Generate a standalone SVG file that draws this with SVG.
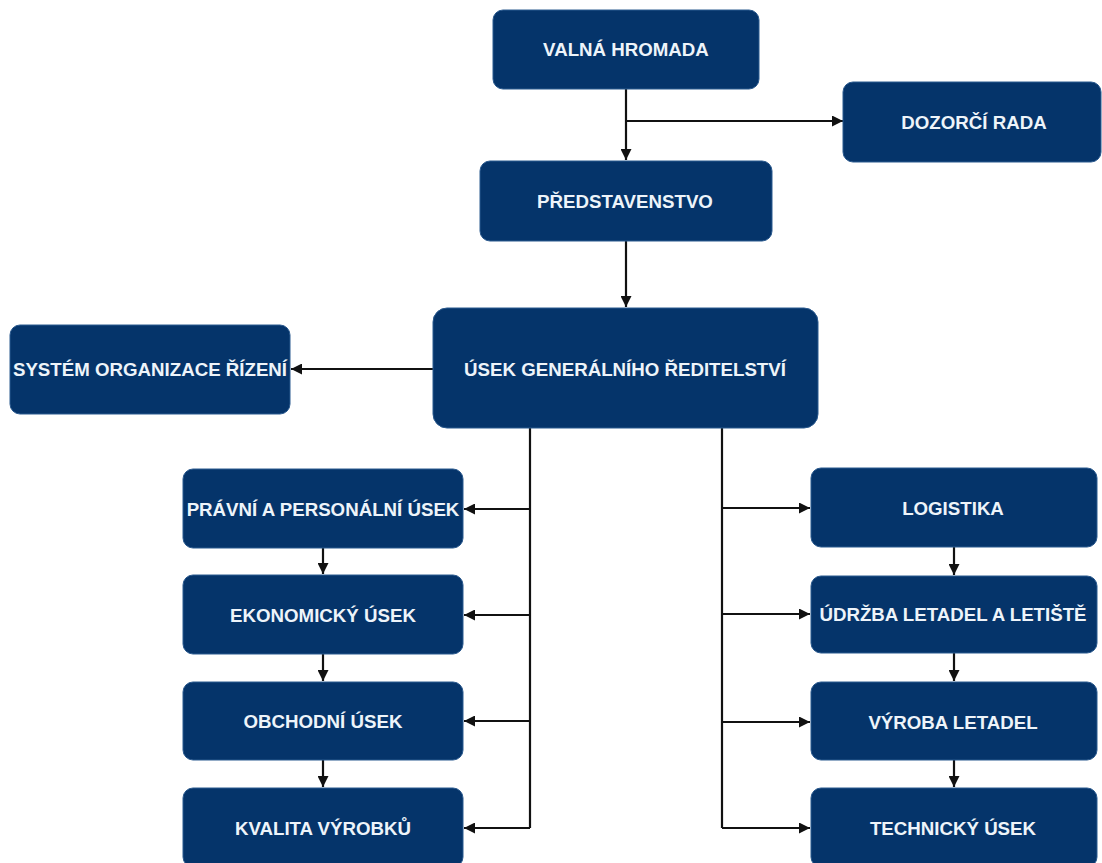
<svg xmlns="http://www.w3.org/2000/svg" width="1102" height="863" viewBox="0 0 1102 863">
  <style>
    .box { fill: #05346a; stroke: #2b5a8f; stroke-width: 1; }
    .lbl { font-family: "Liberation Sans", Arial, sans-serif; font-weight: bold; font-size: 18.7px; fill: #eef4fa; text-anchor: middle; dominant-baseline: central; }
    .ln { fill: none; stroke: #111; stroke-width: 2.2; }
  </style>
  <defs>
    <marker id="arr" viewBox="0 0 10 10" refX="10" refY="5" markerWidth="5" markerHeight="5" orient="auto" markerUnits="strokeWidth">
      <path d="M0,0 L10,5 L0,10 Z" fill="#111"/>
    </marker>
  </defs>
  <rect width="1102" height="863" fill="#ffffff"/>

  <!-- connectors -->
  <g id="connectors">
    <!-- top chain -->
    <path class="ln" d="M626,89 V160" marker-end="url(#arr)"/>
    <path class="ln" d="M626,121 H843" marker-end="url(#arr)"/>
    <path class="ln" d="M626,241 V307" marker-end="url(#arr)"/>
    <path class="ln" d="M433,369 H291" marker-end="url(#arr)"/>
    <!-- left branch -->
    <path class="ln" d="M530,428 V828"/>
    <path class="ln" d="M530,509 H464" marker-end="url(#arr)"/>
    <path class="ln" d="M530,615 H464" marker-end="url(#arr)"/>
    <path class="ln" d="M530,721 H464" marker-end="url(#arr)"/>
    <path class="ln" d="M530,828 H464" marker-end="url(#arr)"/>
    <path class="ln" d="M323,548 V574" marker-end="url(#arr)"/>
    <path class="ln" d="M323,654 V681" marker-end="url(#arr)"/>
    <path class="ln" d="M323,760 V787" marker-end="url(#arr)"/>
    <!-- right branch -->
    <path class="ln" d="M722,428 V828"/>
    <path class="ln" d="M722,508 H810" marker-end="url(#arr)"/>
    <path class="ln" d="M722,614 H810" marker-end="url(#arr)"/>
    <path class="ln" d="M722,722 H810" marker-end="url(#arr)"/>
    <path class="ln" d="M722,828 H810" marker-end="url(#arr)"/>
    <path class="ln" d="M954,547 V575" marker-end="url(#arr)"/>
    <path class="ln" d="M954,653 V681" marker-end="url(#arr)"/>
    <path class="ln" d="M954,760 V787" marker-end="url(#arr)"/>
  </g>

  <!-- nodes -->
  <g id="valna-hromada">
    <rect class="box" x="493" y="10" width="266" height="79" rx="10"/>
    <text class="lbl" x="626" y="49">VALNÁ HROMADA</text>
  </g>
  <g id="dozorci-rada">
    <rect class="box" x="843" y="82" width="258" height="80" rx="10"/>
    <text class="lbl" x="974" y="122">DOZORČÍ RADA</text>
  </g>
  <g id="predstavenstvo">
    <rect class="box" x="480" y="161" width="292" height="80" rx="10"/>
    <text class="lbl" x="625" y="201">PŘEDSTAVENSTVO</text>
  </g>
  <g id="usek-gr">
    <rect class="box" x="433" y="308" width="385" height="120" rx="14"/>
    <text class="lbl" x="625" y="369">ÚSEK GENERÁLNÍHO ŘEDITELSTVÍ</text>
  </g>
  <g id="system-organizace">
    <rect class="box" x="10" y="325" width="280" height="89" rx="10"/>
    <text class="lbl" x="150" y="369">SYSTÉM ORGANIZACE ŘÍZENÍ</text>
  </g>

  <g id="pravni-usek">
    <rect class="box" x="183" y="469" width="280" height="79" rx="10"/>
    <text class="lbl" x="323" y="509">PRÁVNÍ A PERSONÁLNÍ ÚSEK</text>
  </g>
  <g id="ekonomicky-usek">
    <rect class="box" x="183" y="575" width="280" height="79" rx="10"/>
    <text class="lbl" x="323" y="615">EKONOMICKÝ ÚSEK</text>
  </g>
  <g id="obchodni-usek">
    <rect class="box" x="183" y="682" width="280" height="78" rx="10"/>
    <text class="lbl" x="323" y="721">OBCHODNÍ ÚSEK</text>
  </g>
  <g id="kvalita-vyrobku">
    <rect class="box" x="183" y="788" width="280" height="79" rx="10"/>
    <text class="lbl" x="323" y="828">KVALITA VÝROBKŮ</text>
  </g>

  <g id="logistika">
    <rect class="box" x="811" y="468" width="286" height="79" rx="10"/>
    <text class="lbl" x="953" y="508">LOGISTIKA</text>
  </g>
  <g id="udrzba">
    <rect class="box" x="811" y="576" width="286" height="77" rx="10"/>
    <text class="lbl" x="953" y="614">ÚDRŽBA LETADEL A LETIŠTĚ</text>
  </g>
  <g id="vyroba-letadel">
    <rect class="box" x="811" y="682" width="286" height="78" rx="10"/>
    <text class="lbl" x="953" y="722">VÝROBA LETADEL</text>
  </g>
  <g id="technicky-usek">
    <rect class="box" x="811" y="788" width="286" height="79" rx="10"/>
    <text class="lbl" x="953" y="828">TECHNICKÝ ÚSEK</text>
  </g>
</svg>
